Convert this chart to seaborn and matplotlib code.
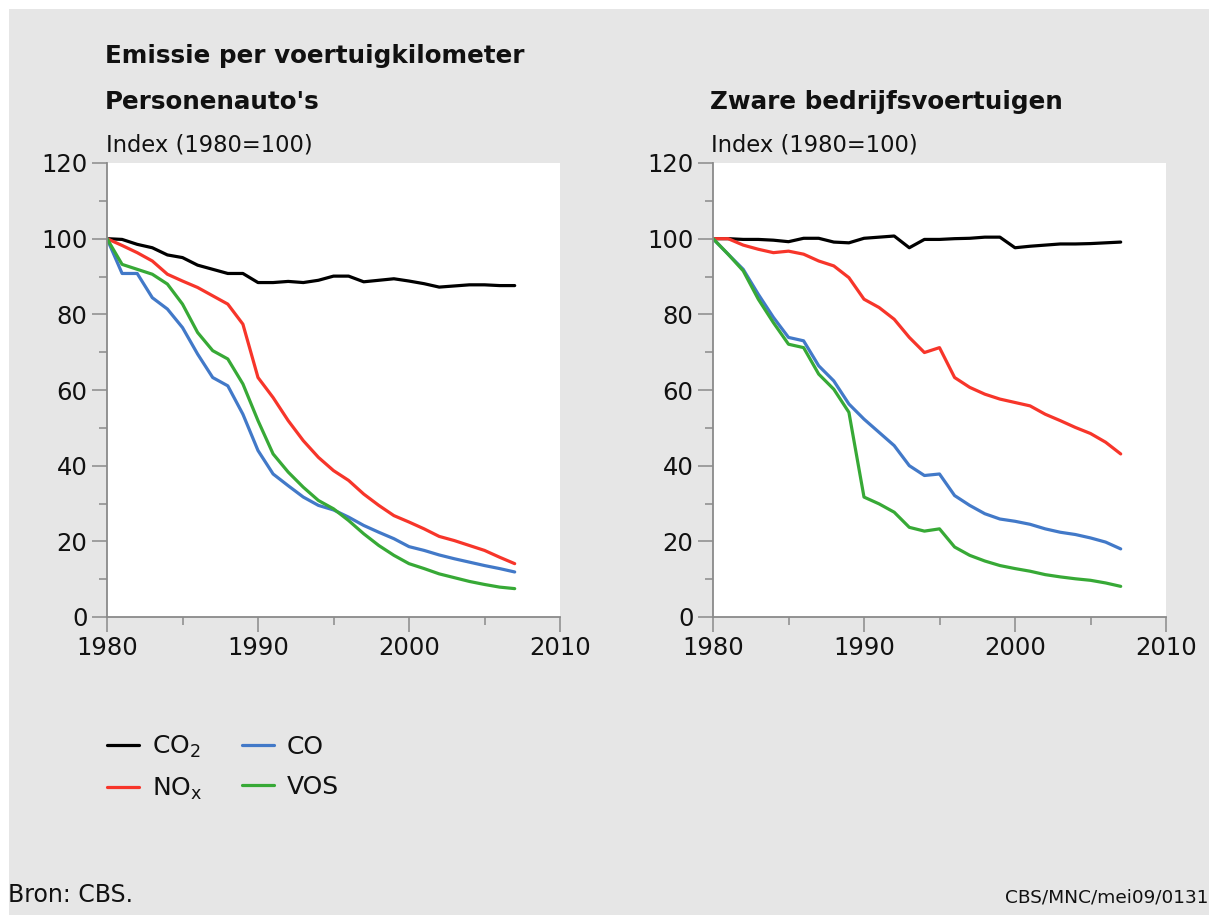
import numpy as np
import pandas as pd
import seaborn as sns
import matplotlib.pyplot as plt
from matplotlib.lines import Line2D
from matplotlib.patches import Rectangle
from matplotlib.ticker import MultipleLocator

jaren = list(range(1980, 2008))

# personenauto's
auto_co2 = [100, 99.8, 98.5, 97.6, 95.7, 95.0, 93.0, 91.9, 90.8, 90.8, 88.4, 88.4, 88.7, 88.4,
            89.0, 90.1, 90.1, 88.6, 89.0, 89.4, 88.8, 88.1, 87.2, 87.5, 87.8, 87.8, 87.6, 87.6]
auto_nox = [100, 98.2, 96.3, 94.1, 90.6, 88.8, 87.1, 84.9, 82.7, 77.4, 63.3, 58.0, 51.9, 46.6,
            42.2, 38.7, 36.1, 32.5, 29.5, 26.8, 25.1, 23.3, 21.3, 20.2, 18.9, 17.6, 15.8, 14.1]
auto_co = [100, 90.8, 90.8, 84.4, 81.4, 76.5, 69.5, 63.3, 61.1, 53.6, 44.0, 37.8, 34.7, 31.7,
           29.5, 28.3, 26.4, 24.2, 22.4, 20.7, 18.6, 17.6, 16.4, 15.4, 14.5, 13.6, 12.8, 11.9]
auto_vos = [100, 93.2, 91.9, 90.6, 88.0, 82.7, 75.2, 70.4, 68.2, 61.6, 51.9, 43.1, 38.3, 34.3,
            30.8, 28.6, 25.5, 22.0, 18.9, 16.3, 14.1, 12.8, 11.4, 10.4, 9.4, 8.6, 7.9, 7.5]

# zware bedrijfsvoertuigen
zwaar_co2 = [100, 100, 99.8, 99.8, 99.6, 99.2, 100.1, 100.1, 99.1, 98.9, 100.1, 100.4, 100.7, 97.6,
             99.8, 99.8, 100, 100.1, 100.4, 100.4, 97.6, 98.0, 98.3, 98.6, 98.6, 98.7, 98.9, 99.1]
zwaar_nox = [100, 100, 98.3, 97.2, 96.3, 96.7, 95.9, 94.1, 92.8, 89.7, 84.0, 81.8, 78.7, 73.9,
             69.9, 71.2, 63.3, 60.7, 58.9, 57.6, 56.7, 55.8, 53.6, 51.9, 50.1, 48.5, 46.2, 43.1]
zwaar_co = [100, 95.9, 91.9, 85.3, 79.2, 73.9, 73.0, 66.4, 62.4, 56.3, 52.3, 48.8, 45.3, 40.0,
            37.4, 37.8, 32.1, 29.5, 27.3, 25.9, 25.3, 24.5, 23.3, 22.4, 21.8, 20.9, 19.8, 18.0]
zwaar_vos = [100, 95.9, 91.5, 84.0, 77.8, 72.1, 71.2, 64.2, 60.2, 54.1, 31.7, 29.9, 27.7, 23.7,
             22.7, 23.3, 18.5, 16.3, 14.8, 13.6, 12.8, 12.1, 11.2, 10.6, 10.1, 9.7, 9.0, 8.1]

stoffen = ['CO2', 'NOx', 'CO', 'VOS']
labels = {'CO2': r'CO$_2$', 'NOx': r'NO$_\mathrm{x}$', 'CO': 'CO', 'VOS': 'VOS'}
kleuren = {'CO2': '#000000', 'NOx': '#f7352a', 'CO': '#4279c8', 'VOS': '#37a936'}


def maak_df(reeksen):
    rows = []
    for stof, waarden in zip(stoffen, reeksen):
        for j, w in zip(jaren, waarden):
            rows.append((j, w, stof))
    return pd.DataFrame(rows, columns=['jaar', 'index', 'stof'])


df_auto = maak_df([auto_co2, auto_nox, auto_co, auto_vos])
df_zwaar = maak_df([zwaar_co2, zwaar_nox, zwaar_co, zwaar_vos])

sns.set_style('white')
plt.rcParams['font.family'] = ['DejaVu Sans']
plt.rcParams['mathtext.fontset'] = 'dejavusans'
plt.rcParams['text.color'] = '#111111'

fig = plt.figure(figsize=(12.09, 9.15), dpi=100, facecolor='white')
fig.patches.append(Rectangle((9 / 1209, 0), 1, 906 / 915, transform=fig.transFigure,
                             facecolor='#e6e6e6', edgecolor='none', zorder=-10))

grijs = '#8a8a8a'
ax1 = fig.add_axes([107 / 1209, 1 - 617 / 915, 453 / 1209, 454 / 915])
ax2 = fig.add_axes([713 / 1209, 1 - 617 / 915, 453 / 1209, 454 / 915])

for ax, df in [(ax1, df_auto), (ax2, df_zwaar)]:
    ax.set_facecolor('white')
    sns.lineplot(data=df, x='jaar', y='index', hue='stof', hue_order=stoffen,
                 palette=kleuren, linewidth=2.3, legend=False, ax=ax)
    ax.set_xlim(1980, 2010)
    ax.set_ylim(0, 120)
    ax.set_xticks([1980, 1990, 2000, 2010])
    ax.set_yticks(range(0, 121, 20))
    ax.xaxis.set_minor_locator(MultipleLocator(5))
    ax.yaxis.set_minor_locator(MultipleLocator(10))
    ax.tick_params(which='major', length=11, width=1.1, color=grijs, labelsize=17.5,
                   labelcolor='#111111', pad=3, direction='out', left=True, bottom=True)
    ax.tick_params(which='minor', length=6, width=1.1, color=grijs, direction='out',
                   left=True, bottom=True)
    ax.set_xlabel('')
    ax.set_ylabel('')
    for s in ['top', 'right']:
        ax.spines[s].set_visible(False)
    for s in ['left', 'bottom']:
        ax.spines[s].set_color(grijs)
        ax.spines[s].set_linewidth(1.3)

fig.text(105 / 1209, 1 - 56 / 915, 'Emissie per voertuigkilometer', fontsize=17.7,
         fontweight='bold', va='center', ha='left')
fig.text(105 / 1209, 1 - 102 / 915, "Personenauto's", fontsize=17.7,
         fontweight='bold', va='center', ha='left')
fig.text(106 / 1209, 1 - 145 / 915, 'Index (1980=100)', fontsize=16.3, va='center', ha='left')
fig.text(710 / 1209, 1 - 102 / 915, 'Zware bedrijfsvoertuigen', fontsize=17.7,
         fontweight='bold', va='center', ha='left')
fig.text(711 / 1209, 1 - 145 / 915, 'Index (1980=100)', fontsize=16.3, va='center', ha='left')

handles = [Line2D([], [], color=kleuren[s], linewidth=2.3) for s in stoffen]
fig.legend(handles, [labels[s] for s in stoffen], ncol=2, frameon=False,
           loc='upper left', bbox_to_anchor=(84 / 1209, 1 - 711 / 915),
           fontsize=18, handlelength=1.3, handletextpad=0.5, columnspacing=1.6,
           labelspacing=0.65)

fig.text(8 / 1209, 1 - 895 / 915, 'Bron: CBS.', fontsize=17, va='center', ha='left')
fig.text(1208 / 1209, 1 - 897 / 915, 'CBS/MNC/mei09/0131', fontsize=13.3, va='center',
         ha='right')

fig.savefig('out.png', dpi=100, facecolor=fig.get_facecolor())
